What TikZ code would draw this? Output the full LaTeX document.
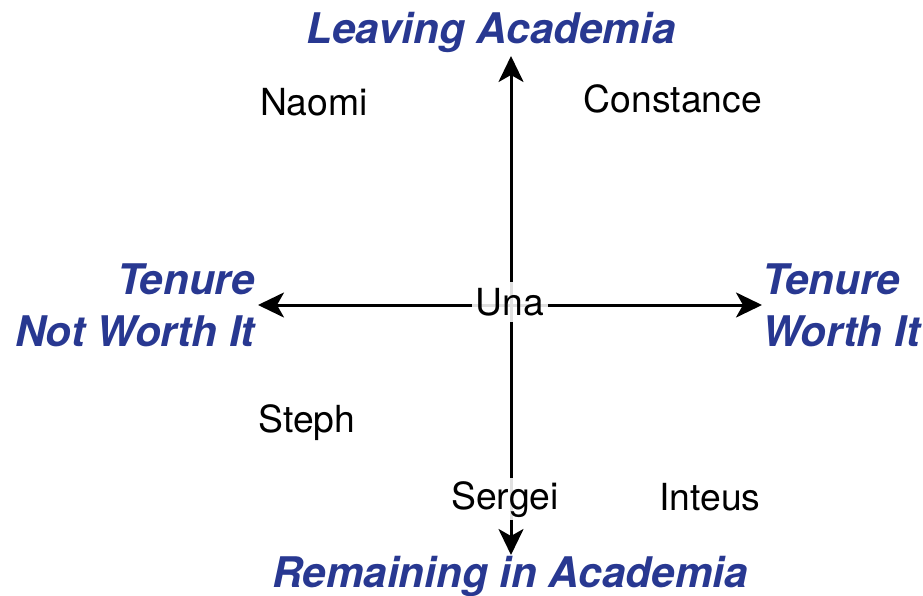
\documentclass[tikz,border=0pt]{standalone}
\usepackage{fontspec}
\setmainfont{TeX Gyre Heros}
\usepackage{xcolor}
\usetikzlibrary{arrows.meta}
\definecolor{axisblue}{RGB}{40,56,145}
\tikzstyle{person} = [font=\fontsize{37.3}{44}\selectfont, anchor=base, inner sep=1pt]
\tikzstyle{blanked} = [fill=white, fill opacity=0.88, text opacity=1]
\tikzstyle{axislabel} = [font=\fontsize{42.2}{52}\selectfont\bfseries\itshape, text=axisblue, inner sep=0pt]
\tikzstyle{axis} = [line width=3pt, {Stealth[length=26pt,width=25pt,inset=7pt]}-{Stealth[length=26pt,width=25pt,inset=7pt]}]

\begin{document}
\begin{tikzpicture}[x=1pt, y=-1pt]
    \useasboundingbox (0,0) rectangle (923,596);
    \coordinate (top) at (511,56);
    \coordinate (bottom) at (511,555);
    \coordinate (left) at (258,305);
    \coordinate (right) at (762,305);
    \draw[axis] (top) -- (bottom);
    \draw[axis] (left) -- (right);
    \node[axislabel, anchor=base] (leaving) at (491,44) {Leaving Academia};
    \node[axislabel, anchor=base] (remaining) at (510,587) {Remaining in Academia};
    \node[axislabel, anchor=east, align=right] (notworth) at (255,305) {Tenure\\Not Worth It};
    \node[axislabel, anchor=west, align=left] (worth) at (762,305) {Tenure\\Worth It};
    \node[person] (naomi) at (314,116) {Naomi};
    \node[person] (constance) at (673,113) {Constance};
    \node[person, blanked, inner xsep=4pt, inner ysep=6pt] (una) at (510,315) {Una};
    \node[person] (steph) at (307,432) {Steph};
    \node[person, blanked, inner sep=3pt] (sergei) at (505,509) {Sergei};
    \node[person] (inteus) at (710,510) {Inteus};
\end{tikzpicture}
\end{document}
